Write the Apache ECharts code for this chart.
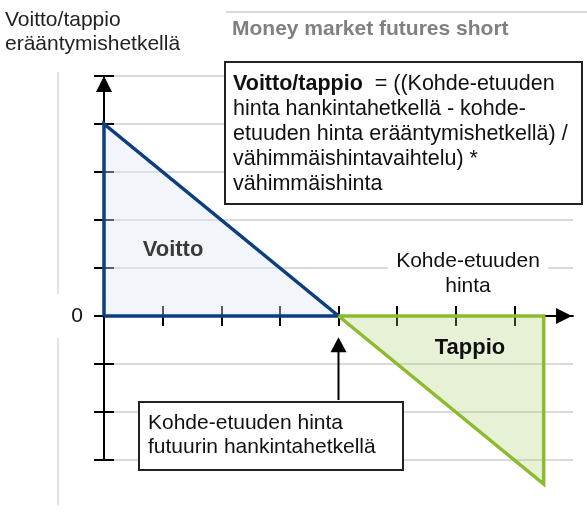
<!DOCTYPE html>
<html>
<head>
<meta charset="utf-8">
<title>Money market futures short</title>
<script src="https://cdn.jsdelivr.net/npm/echarts@6/dist/echarts.min.js"></script>
<style>
  html, body { margin: 0; padding: 0; background: #fff; }
  #chart { width: 587px; height: 513px; }
</style>
</head>
<body>
<div id="chart"></div>
<script>
// profit / loss shapes (x = underlying price, y = profit/loss)
var profitLine = [[0, 0], [0, 4], [4, 0], [0, 0]];
var profitArea = [[0, 4], [4, 0]];
var lossLine = [[4, 0], [7.5, -3.5], [7.5, 0], [4, 0]];
var lossArea = [[4, 0], [7.5, -3.5]];
var entryArrow = [[4, -1.75], [4, -0.6]];   // arrow pointing at purchase price
var xTicks = [1, 2, 3, 4, 5, 6, 7];
var yMin = -3, yMax = 5, xMin = 0, xMax = 8;

var FONT = '"Liberation Sans", Arial, sans-serif';

var chart = echarts.init(document.getElementById('chart'));

var option = {
  animation: false,
  grid: { left: 104, right: 14, top: 76, bottom: 53, outerBoundsMode: 'none' },
  xAxis: [
    {
      type: 'value', min: xMin, max: xMax, interval: 1, position: 'bottom',
      axisLine: {
        onZero: true, onZeroAxisIndex: 0,
        symbol: ['none', 'triangle'], symbolSize: [16, 16], symbolOffset: [0, -9],
        lineStyle: { color: '#000', width: 2 }
      },
      axisTick: { show: true, length: 10, customValues: xTicks, lineStyle: { color: '#000', width: 2 } },
      axisLabel: { show: false },
      splitLine: { show: false }
    },
    {
      type: 'value', min: xMin, max: xMax, interval: 1, position: 'top',
      axisLine: { show: false, onZero: true, onZeroAxisIndex: 0 },
      axisTick: { show: true, length: 10, customValues: xTicks, lineStyle: { color: '#000', width: 2 } },
      axisLabel: { show: false },
      splitLine: { show: false }
    }
  ],
  yAxis: [
    {
      type: 'value', min: yMin, max: yMax, interval: 1, position: 'left',
      axisLine: {
        onZero: true, onZeroAxisIndex: 0,
        symbol: ['none', 'triangle'], symbolSize: [16, 16], symbolOffset: [0, -8],
        lineStyle: { color: '#000', width: 2 }
      },
      axisTick: { show: true, length: 10, lineStyle: { color: '#000', width: 2 } },
      axisLabel: {
        margin: 21, color: '#111', fontSize: 21, fontFamily: FONT,
        formatter: function (v) { return v === 0 ? '0' : ''; }
      },
      splitLine: { show: true, lineStyle: { color: '#dadada', width: 2 } }
    },
    {
      type: 'value', min: yMin, max: yMax, interval: 1, position: 'right',
      axisLine: { show: false, onZero: true, onZeroAxisIndex: 0 },
      axisTick: { show: true, length: 10, lineStyle: { color: '#000', width: 2 } },
      axisLabel: { show: false },
      splitLine: { show: false }
    }
  ],
  series: [
    {
      name: 'Voitto area', type: 'line', data: profitArea, symbol: 'none', clip: false,
      lineStyle: { width: 0 },
      areaStyle: { color: '#dfe5ef', opacity: 0.4 },
      z: 2
    },
    {
      name: 'Tappio area', type: 'line', data: lossArea, symbol: 'none', clip: false,
      lineStyle: { width: 0 },
      areaStyle: { color: '#a9cc6c', opacity: 0.28 },
      z: 2
    },
    {
      name: 'Voitto', type: 'line', data: profitLine, symbol: 'none', clip: false,
      lineStyle: { color: '#0d3f7d', width: 3.5, join: 'miter' },
      z: 3
    },
    {
      name: 'Tappio', type: 'line', data: lossLine, symbol: 'none', clip: false,
      lineStyle: { color: '#8cbb2f', width: 3.5, join: 'miter' },
      z: 3
    },
    {
      name: 'Hankintahinta', type: 'line', clip: false, showSymbol: true,
      data: [
        { value: entryArrow[0], symbol: 'none' },
        { value: entryArrow[1], symbol: 'triangle', symbolSize: [16, 15] }
      ],
      lineStyle: { color: '#000', width: 2 },
      itemStyle: { color: '#000' },
      z: 4
    }
  ],
  graphic: [
    // thin frame lines
    { type: 'line', z: 50, shape: { x1: 226, y1: 12, x2: 587, y2: 12 }, style: { stroke: '#d9d9d9', lineWidth: 2 } },
    { type: 'line', z: 50, shape: { x1: 58, y1: 72, x2: 58, y2: 294 }, style: { stroke: '#e4e4e4', lineWidth: 2 } },
    { type: 'line', z: 50, shape: { x1: 58, y1: 338, x2: 58, y2: 505 }, style: { stroke: '#e4e4e4', lineWidth: 2 } },
    // y axis title
    {
      type: 'text', z: 50, x: 5, y: 8,
      style: { text: 'Voitto/tappio\nerääntymishetkellä', fontSize: 21, fontFamily: FONT, fill: '#222', lineHeight: 24 }
    },
    // chart title
    {
      type: 'text', z: 50, x: 232, y: 29,
      style: { text: 'Money market futures short', fontSize: 21, fontWeight: 'bold', fontFamily: FONT, fill: '#808080', verticalAlign: 'middle' }
    },
    // formula box
    { type: 'rect', z: 60, shape: { x: 225, y: 62, width: 357, height: 142 }, style: { fill: '#fff', stroke: '#222', lineWidth: 2 } },
    {
      type: 'text', z: 61, x: 233, y: 72,
      style: {
        text: '{b|Voitto/tappio}  = ((Kohde-etuuden\nhinta hankintahetkellä - kohde-\netuuden hinta erääntymishetkellä) /\nvähimmäishintavaihtelu) *\nvähimmäishinta',
        fontSize: 21.5, fontFamily: FONT, fill: '#111', lineHeight: 25,
        rich: { b: { fontSize: 21.5, fontFamily: FONT, fontWeight: 'bold', fill: '#111', lineHeight: 25 } }
      }
    },
    // x axis name
    {
      type: 'text', z: 55, x: 468, y: 249,
      style: {
        text: 'Kohde-etuuden\nhinta', fontSize: 21, fontFamily: FONT, fill: '#111', lineHeight: 25,
        align: 'center', backgroundColor: '#fff', padding: [0, 8]
      }
    },
    // area labels
    {
      type: 'text', z: 55, x: 173, y: 250,
      style: { text: 'Voitto', fontSize: 22, fontWeight: 'bold', fontFamily: FONT, fill: '#3a3a3a', align: 'center', verticalAlign: 'middle' }
    },
    {
      type: 'text', z: 55, x: 470, y: 348,
      style: { text: 'Tappio', fontSize: 22, fontWeight: 'bold', fontFamily: FONT, fill: '#111', align: 'center', verticalAlign: 'middle' }
    },
    // purchase price box
    { type: 'rect', z: 60, shape: { x: 139, y: 402, width: 264, height: 68 }, style: { fill: '#fff', stroke: '#222', lineWidth: 2 } },
    {
      type: 'text', z: 61, x: 148, y: 411,
      style: { text: 'Kohde-etuuden hinta\nfutuurin hankintahetkellä', fontSize: 21, fontFamily: FONT, fill: '#111', lineHeight: 24 }
    }
  ]
};

chart.setOption(option);
</script>
</body>
</html>
